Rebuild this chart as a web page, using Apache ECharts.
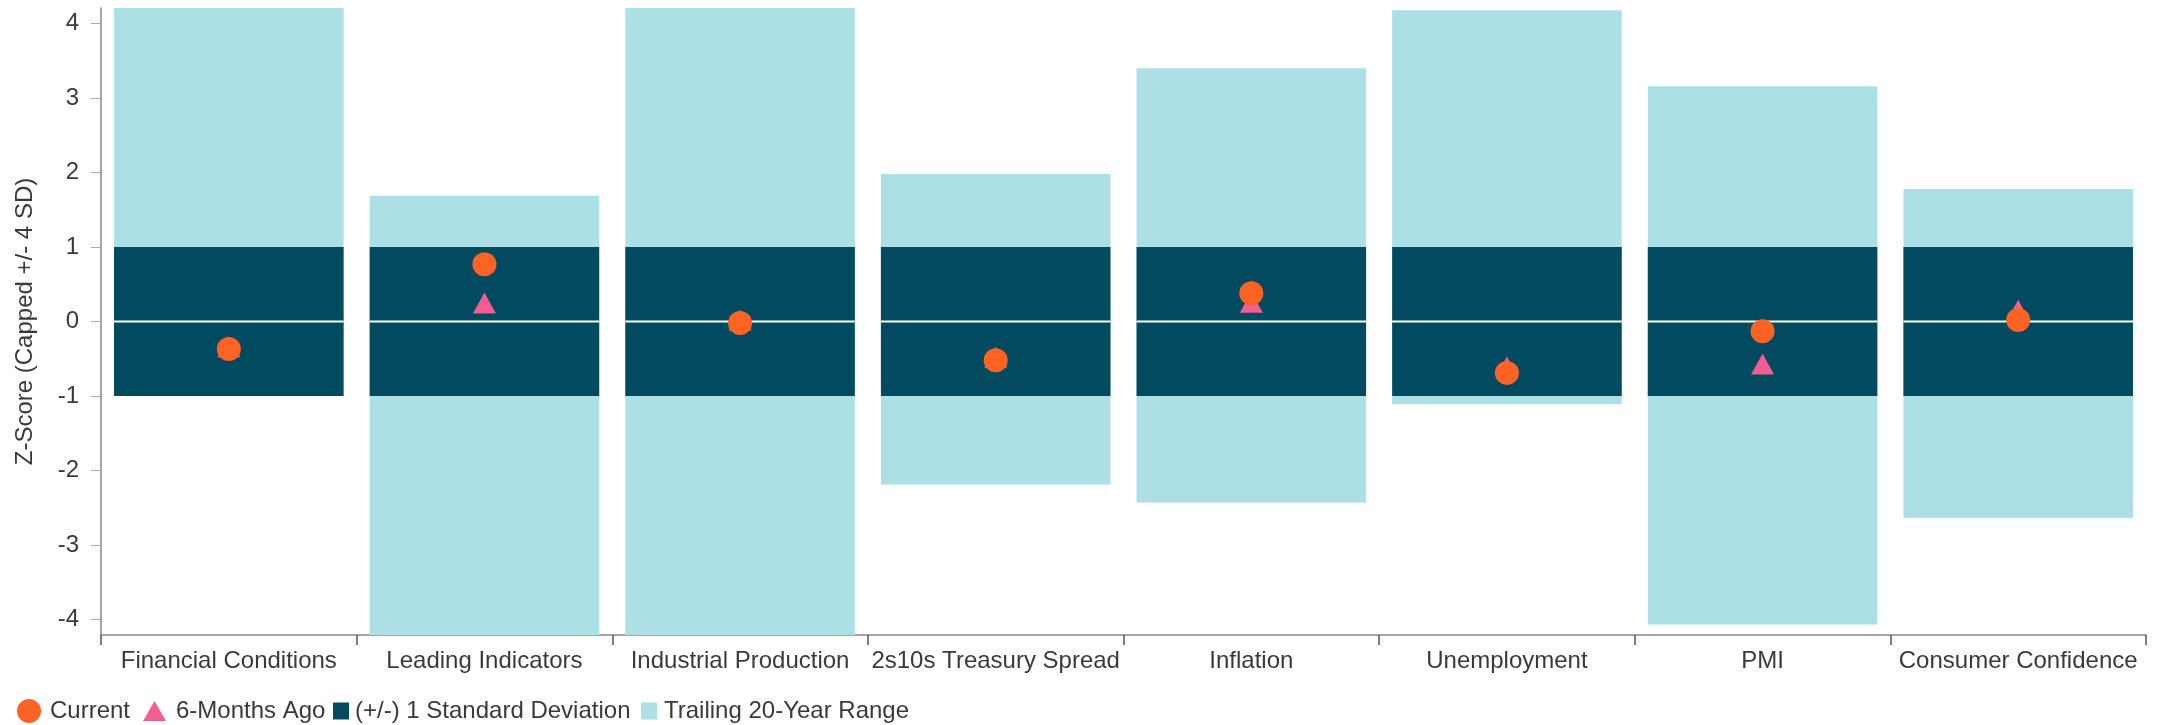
<!DOCTYPE html>
<html><head><meta charset="utf-8">
<script src="https://cdn.jsdelivr.net/npm/echarts@6/dist/echarts.min.js"></script>
<style>html,body{margin:0;padding:0;background:#fff}#c{width:2166px;height:725px}</style>
</head><body><div id="c"></div>
<script>
const categories = ['Financial Conditions','Leading Indicators','Industrial Production','2s10s Treasury Spread','Inflation','Unemployment','PMI','Consumer Confidence'];
const rangeLow = [-1.0,-4.21,-4.21,-2.19,-2.43,-1.11,-4.07,-2.64];
const rangeHigh = [4.21,1.69,4.21,1.98,3.40,4.18,3.16,1.78];
const sdLow = [-1,-1,-1,-1,-1,-1,-1,-1];
const sdHigh = [1,1,1,1,1,1,1,1];
const current = [-0.37,0.77,-0.02,-0.52,0.38,-0.69,-0.13,0.02];
const sixMonthsAgo = [-0.34,0.25,0.02,-0.48,0.26,-0.61,-0.57,0.15];
const yTicks = [-4,-3,-2,-1,0,1,2,3,4];

const LIGHT = '#ade0e4', DARK = '#014a5f', ORANGE = '#ff6324', PINK = '#f35e91';
const TXT = '#3a3a3a', AX = '#888888';
const FONT = "'Liberation Sans', Arial, sans-serif";
const BAR_FRAC = 0.898;

function boxRender(color, zeroLine){
  return function(params, api){
    const c = api.value(0);
    const lo = api.coord([c, api.value(1)]);
    const hi = api.coord([c, api.value(2)]);
    const w = api.size([1, 0])[0] * BAR_FRAC;
    const children = [{type:'rect', shape:{x: lo[0]-w/2, y: hi[1], width: w, height: lo[1]-hi[1]}, style:{fill: color}}];
    if (zeroLine) {
      const z = api.coord([c, 0]);
      children.push({type:'line', shape:{x1: lo[0]-w/2, y1: z[1], x2: lo[0]+w/2, y2: z[1]}, style:{stroke:'#ffffff', lineWidth:2}});
    }
    return {type:'group', children};
  };
}

const legendText = (pad) => ({fontSize:24, color:TXT, fontFamily:FONT, lineHeight:24, padding:[0,0,0,pad]});
const LEG_TOP = 699;

const chart = echarts.init(document.getElementById('c'), null, {renderer:'canvas'});
chart.setOption({
  animation:false,
  textStyle:{fontFamily:FONT},
  grid:{left:101, right:20, top:8, bottom:90, containLabel:false},
  legend:[
    {data:['Current'], left:17, top:LEG_TOP, padding:0, itemWidth:24, itemHeight:24, icon:'circle', textStyle:legendText(4)},
    {data:['6-Months Ago'], left:143, top:LEG_TOP, padding:0, itemWidth:23, itemHeight:20, icon:'triangle', symbolKeepAspect:false, textStyle:legendText(5)},
    {data:['(+/-) 1 Standard Deviation'], left:333, top:LEG_TOP, padding:0, itemWidth:16, itemHeight:17, icon:'rect', textStyle:legendText(1)},
    {data:['Trailing 20-Year Range'], left:641, top:LEG_TOP, padding:0, itemWidth:16, itemHeight:17, icon:'rect', textStyle:legendText(2)}
  ],
  xAxis:{
    type:'category', data:categories, boundaryGap:true,
    axisLine:{show:true, onZero:false, lineStyle:{color:AX, width:1.5}},
    axisTick:{show:true, length:10, alignWithLabel:false, lineStyle:{color:'#555', width:1.5}},
    axisLabel:{interval:0, fontSize:24, color:TXT, margin:14}
  },
  yAxis:{
    type:'value', min:-4.21, max:4.21,
    name:'Z-Score (Capped +/- 4 SD)', nameLocation:'middle', nameGap:64,
    nameTextStyle:{fontSize:24, color:TXT},
    splitLine:{show:false},
    axisLine:{show:true, lineStyle:{color:AX, width:1.5}},
    axisTick:{show:true, length:10, customValues:yTicks, lineStyle:{color:'#aaa'}},
    axisLabel:{fontSize:24, color:TXT, margin:22, customValues:yTicks}
  },
  series:[
    {name:'Trailing 20-Year Range', type:'custom', z:1, itemStyle:{color:LIGHT},
     renderItem:boxRender(LIGHT,false), encode:{x:0, y:[1,2]},
     data:categories.map((c,i)=>[i, rangeLow[i], rangeHigh[i]])},
    {name:'(+/-) 1 Standard Deviation', type:'custom', z:2, itemStyle:{color:DARK},
     renderItem:boxRender(DARK,true), encode:{x:0, y:[1,2]},
     data:categories.map((c,i)=>[i, sdLow[i], sdHigh[i]])},
    {name:'6-Months Ago', type:'scatter', z:3, symbol:'triangle', symbolSize:[23,21],
     itemStyle:{color:PINK, opacity:1}, data:sixMonthsAgo},
    {name:'Current', type:'scatter', z:4, symbol:'circle', symbolSize:24,
     itemStyle:{color:ORANGE, opacity:1}, data:current}
  ]
});
</script></body></html>
